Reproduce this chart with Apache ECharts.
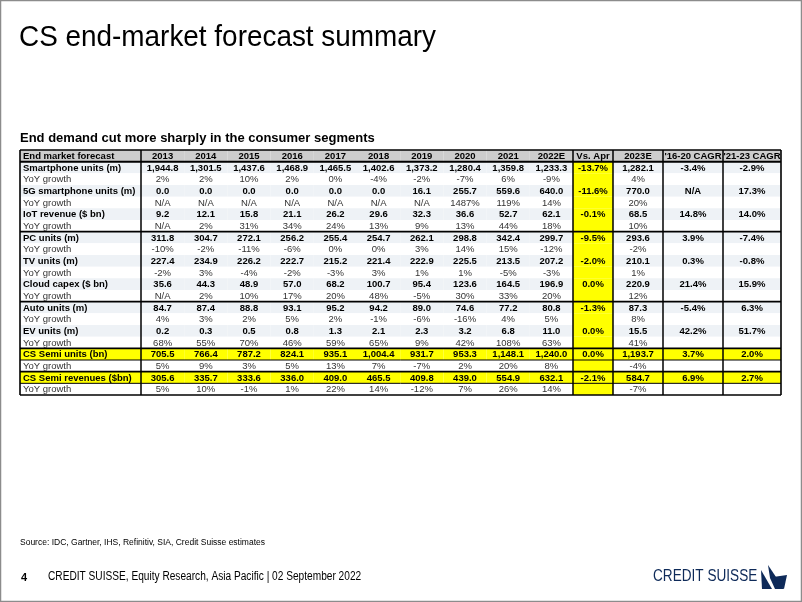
<!DOCTYPE html>
<html>
<head>
<meta charset="utf-8">
<script src="https://cdn.jsdelivr.net/npm/echarts@6/dist/echarts.min.js"></script>
<style>
html,body{margin:0;padding:0;background:#fff;}
#chart{width:802px;height:602px;}
</style>
</head>
<body>
<div id="chart"></div>
<script>
// ---------------- DATA ----------------
const headerLabels = ['End market forecast','2013','2014','2015','2016','2017','2018','2019','2020','2021','2022E','Vs. Apr','2023E',"'16-20 CAGR","'21-23 CAGR"];
const metricNames = ['Smartphone units (m)','5G smartphone units (m)','IoT revenue ($ bn)','PC units (m)','TV units (m)','Cloud capex ($ bn)','Auto units (m)','EV units (m)','CS Semi units (bn)','CS Semi revenues ($bn)'];
const yoyLabel = 'YoY growth';

// 2013 ... 2022E values
const smartphoneUnits = [1944.8,1301.5,1437.6,1468.9,1465.5,1402.6,1373.2,1280.4,1359.8,1233.3];
const smartphoneYoY   = [2,2,10,2,0,-4,-2,-7,6,-9];
const fiveGUnits      = [0.0,0.0,0.0,0.0,0.0,0.0,16.1,255.7,559.6,640.0];
const fiveGYoY        = [null,null,null,null,null,null,null,1487,119,14];
const iotRevenue      = [9.2,12.1,15.8,21.1,26.2,29.6,32.3,36.6,52.7,62.1];
const iotYoY          = [null,2,31,34,24,13,9,13,44,18];
const pcUnits         = [311.8,304.7,272.1,256.2,255.4,254.7,262.1,298.8,342.4,299.7];
const pcYoY           = [-10,-2,-11,-6,0,0,3,14,15,-12];
const tvUnits         = [227.4,234.9,226.2,222.7,215.2,221.4,222.9,225.5,213.5,207.2];
const tvYoY           = [-2,3,-4,-2,-3,3,1,1,-5,-3];
const cloudCapex      = [35.6,44.3,48.9,57.0,68.2,100.7,95.4,123.6,164.5,196.9];
const cloudYoY        = [null,2,10,17,20,48,-5,30,33,20];
const autoUnits       = [84.7,87.4,88.8,93.1,95.2,94.2,89.0,74.6,77.2,80.8];
const autoYoY         = [4,3,2,5,2,-1,-6,-16,4,5];
const evUnits         = [0.2,0.3,0.5,0.8,1.3,2.1,2.3,3.2,6.8,11.0];
const evYoY           = [68,55,70,46,59,65,9,42,108,63];
const semiUnits       = [705.5,766.4,787.2,824.1,935.1,1004.4,931.7,953.3,1148.1,1240.0];
const semiUnitsYoY    = [5,9,3,5,13,7,-7,2,20,8];
const semiRevenues    = [305.6,335.7,333.6,336.0,409.0,465.5,409.8,439.0,554.9,632.1];
const semiRevenuesYoY = [5,10,-1,1,22,14,-12,7,26,14];

// per metric: change vs April (%), 2023E, 2023E YoY (%), '16-20 CAGR (%), '21-23 CAGR (%)
const vsApril   = [-13.7,-11.6,-0.1,-9.5,-2.0,0.0,-1.3,0.0,0.0,-2.1];
const est2023   = [1282.1,770.0,68.5,293.6,210.1,220.9,87.3,15.5,1193.7,584.7];
const yoy2023   = [4,20,10,-2,1,12,8,41,-4,-7];
const cagr16_20 = [-3.4,null,14.8,3.9,0.3,21.4,-5.4,42.2,3.7,6.9];
const cagr21_23 = [-2.9,17.3,14.0,-7.4,-0.8,15.9,6.3,51.7,2.0,2.7];

const levelSeries = [smartphoneUnits,fiveGUnits,iotRevenue,pcUnits,tvUnits,cloudCapex,autoUnits,evUnits,semiUnits,semiRevenues];
const yoySeries   = [smartphoneYoY,fiveGYoY,iotYoY,pcYoY,tvYoY,cloudYoY,autoYoY,evYoY,semiUnitsYoY,semiRevenuesYoY];
const highlightMetrics = [8,9]; // yellow rows

// ---------------- LAYOUT ----------------
const colWidths = [121,43.2,43.2,43.2,43.2,43.2,43.2,43.2,43.2,43.2,43.2,40,50,60,58];
const colEdges = [0];
colWidths.forEach(w => colEdges.push(colEdges[colEdges.length-1] + w));
const nRows = 1 + metricNames.length * 2;
const groupBreaks = [7,13,17,19]; // thick horizontal lines (row index of top of row)
const thickVerticals = [1,11,12,13,14];

const COL_HEADER = '#cdcdcd', COL_LEVEL = '#eef2f6', COL_YOY = '#ffffff', COL_YELLOW = '#ffff00';
const FONT = "'Liberation Sans', Arial, sans-serif";
const NAVY = '#0e2a59';

// ---------------- BUILD TABLE ----------------
const fmtNum = v => v.toLocaleString('en-US',{minimumFractionDigits:1,maximumFractionDigits:1});
const fmtPct1 = v => v == null ? 'N/A' : v.toFixed(1) + '%';
const fmtPct0 = v => v == null ? 'N/A' : Math.round(v) + '%';

const cells = [];
headerLabels.forEach((t,c) => cells.push({col:c,row:0,text:t,kind:'header'}));
metricNames.forEach((name,m) => {
  const r1 = 1 + m*2, r2 = r1 + 1;
  const hl = highlightMetrics.includes(m);
  const lvl = [name, ...levelSeries[m].map(fmtNum), fmtPct1(vsApril[m]), fmtNum(est2023[m]), fmtPct1(cagr16_20[m]), fmtPct1(cagr21_23[m])];
  const yy  = [yoyLabel, ...yoySeries[m].map(fmtPct0), '', fmtPct0(yoy2023[m]), '', ''];
  lvl.forEach((t,c) => cells.push({col:c,row:r1,text:t,kind:'level',hl:hl}));
  yy.forEach((t,c) => cells.push({col:c,row:r2,text:t,kind:'yoy',hl:false}));
});

function cellFill(cell){
  if (cell.kind === 'header') return COL_HEADER;
  if (cell.hl) return COL_YELLOW;
  if (cell.col === 11) return COL_YELLOW;
  return cell.kind === 'level' ? COL_LEVEL : COL_YOY;
}

// line segments in axis units: [x0,y0,x1,y1,width]
const segs = [];
const W = colEdges[colEdges.length-1];
segs.push([0,0,W,0,1.6]);
segs.push([0,nRows,W,nRows,1.6]);
segs.push([0,1,W,1,2]);
groupBreaks.forEach(r => segs.push([0,r,W,r,1.6]));
highlightMetrics.forEach(m => { const r = 2 + m*2; segs.push([0,r,W,r,1]); });
segs.push([0,0,0,nRows,1.6]);
segs.push([W,0,W,nRows,1.6]);
thickVerticals.forEach(c => segs.push([colEdges[c],0,colEdges[c],nRows,1.5]));

// ---------------- CHART ----------------
const chart = echarts.init(document.getElementById('chart'), null, {renderer:'canvas'});

function renderCell(params, api){
  const cell = cells[params.dataIndex];
  const p0 = api.coord([colEdges[cell.col], cell.row]);
  const p1 = api.coord([colEdges[cell.col+1], cell.row+1]);
  const x = p0[0], y = p0[1], w = p1[0]-p0[0], h = p1[1]-p0[1];
  const bold = cell.kind !== 'yoy';
  const left = cell.col === 0;
  return {
    type:'group',
    children:[
      {type:'rect', shape:{x:x,y:y,width:w,height:h}, style:{fill:cellFill(cell)}},
      {type:'text', style:{
        text:cell.text, x: left ? x+3 : x+w/2, y: y+h/2+0.5,
        align: left ? 'left' : 'center', verticalAlign:'middle',
        fontSize:9.5, fontWeight: bold ? 'bold' : 'normal', fontFamily:FONT,
        fill: bold ? '#000000' : '#333333'
      }}
    ]
  };
}
function renderSeg(params, api){
  const p0 = api.coord([api.value(0), api.value(1)]);
  const p1 = api.coord([api.value(2), api.value(3)]);
  return {type:'line', shape:{x1:p0[0],y1:p0[1],x2:p1[0],y2:p1[1]}, style:{stroke:'#000',lineWidth:api.value(4)}};
}

chart.setOption({
  animation:false,
  backgroundColor:'#ffffff',
  grid:{left:20,right:21,top:150,bottom:207},
  xAxis:{type:'value',min:0,max:W,show:false},
  yAxis:{type:'value',min:0,max:nRows,inverse:true,show:false},
  series:[
    {type:'custom', renderItem:renderCell, clip:false, data:cells.map(c=>[colEdges[c.col],c.row]), encode:{x:0,y:1}, z:1, silent:true},
    {type:'custom', renderItem:renderSeg, clip:false, data:segs, encode:{x:[0,2],y:[1,3]}, z:2, silent:true}
  ],
  graphic:[
    {type:'rect', shape:{x:0.5,y:0.5,width:801,height:601}, style:{fill:'none',stroke:'#8c8c8c',lineWidth:1.5}, z:10},
    {type:'text', x:19, y:23, scaleX:0.93, style:{text:'CS end-market forecast summary', x:0, y:0, verticalAlign:'top', fontSize:30, fontFamily:FONT, fill:'#000'}},
    {type:'text', x:20, y:132, style:{text:'End demand cut more sharply in the consumer segments', x:0, y:0, verticalAlign:'top', fontSize:13, fontWeight:'bold', fontFamily:FONT, fill:'#000'}},
    {type:'text', x:20, y:538, style:{text:'Source: IDC, Gartner, IHS, Refinitiv, SIA, Credit Suisse estimates', x:0, y:0, verticalAlign:'top', fontSize:8.5, fontFamily:FONT, fill:'#000'}},
    {type:'text', x:21, y:572, style:{text:'4', x:0, y:0, verticalAlign:'top', fontSize:11, fontWeight:'bold', fontFamily:FONT, fill:'#000'}},
    {type:'text', x:48, y:571, scaleX:0.845, style:{text:'CREDIT SUISSE, Equity Research, Asia Pacific | 02 September 2022', x:0, y:0, verticalAlign:'top', fontSize:12, fontFamily:FONT, fill:'#000'}},
    {type:'text', x:653, y:569, scaleX:0.85, style:{text:'CREDIT SUISSE', x:0, y:0, verticalAlign:'top', fontSize:16, fontFamily:FONT, fill:NAVY}},
    {type:'polygon', shape:{points:[[761,570],[772,589],[762,589]]}, style:{fill:NAVY}},
    {type:'polygon', shape:{points:[[768,565],[784,589],[775,589],[770,578]]}, style:{fill:NAVY}},
    {type:'polygon', shape:{points:[[773,577],[787,575],[784,589]]}, style:{fill:NAVY}}
  ]
});
</script>
</body>
</html>
